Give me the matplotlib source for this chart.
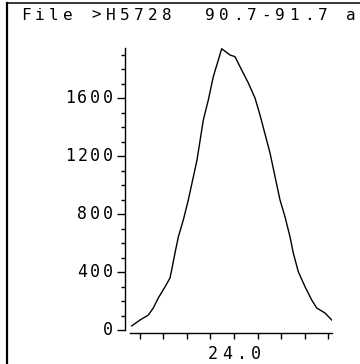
"""Single-ion chromatogram, scanned plotter style."""

import matplotlib
matplotlib.use("Agg")
import matplotlib.pyplot as plt
from matplotlib.lines import Line2D

# retention time (min) and abundance
times = [23.5665, 23.6017, 23.6369, 23.6580, 23.6792, 23.7076, 23.7288,
         23.7360, 23.7500, 23.7640, 23.7852, 23.8064, 23.8432, 23.8699,
         23.8911, 23.9123, 23.9479, 23.9830, 24.0042, 24.0326, 24.0606,
         24.0890, 24.1102, 24.1526, 24.1949, 24.2161, 24.2373, 24.2513,
         24.2725, 24.3009, 24.3293, 24.3505, 24.3856, 24.4140]
abundance = [28, 69, 103, 152, 221, 297, 359,
             414, 531, 641, 759, 897, 1172, 1448,
             1586, 1747, 1940, 1897, 1885, 1793, 1704,
             1600, 1483, 1221, 897, 781, 643, 531,
             402, 299, 207, 152, 117, 69]

title = "File >H5728  90.7-91.7 amu"
y_major = [0, 400, 800, 1200, 1600]
y_minor = list(range(0, 2000, 100))
x_ticks = [23.6, 23.7, 23.8, 23.9, 24.0, 24.1, 24.2, 24.3, 24.4]
x_labels = {24.0: "24.0"}

W, H = 360, 364
MONO = "DejaVu Sans Mono"


def spaced_text(fig, x_px, y_px, s, pitch, size):
    """Draw s one char at a time, first char centred at x_px (pixels from top-left)."""
    for i, ch in enumerate(s):
        cx = x_px + i * pitch
        if ch == " " or cx + 3 > W:
            continue
        fig.text(cx / W, 1 - y_px / H, ch, ha="center", va="center",
                 family=MONO, fontsize=size, color="black")


def main() -> None:
    fig = plt.figure(figsize=(W / 100, H / 100), dpi=100)
    ax = fig.add_axes([130 / W, 34 / H, 202 / W, 282 / H])

    ax.plot(times, abundance, color="black", lw=1.0)
    ax.set_xlim(23.5593, 24.4153)
    ax.set_ylim(0, 1945)

    for side in ("top", "right"):
        ax.spines[side].set_visible(False)
    ax.spines["left"].set_position(("outward", 3.6))
    ax.spines["bottom"].set_position(("outward", 2.2))
    for sp in ("left", "bottom"):
        ax.spines[sp].set_linewidth(1.0)

    ax.set_yticks(y_major)
    ax.set_yticks(y_minor, minor=True)
    ax.set_xticks(x_ticks)
    ax.tick_params(axis="y", which="major", length=5.8, width=1.0,
                   direction="out", labelleft=False)
    ax.tick_params(axis="y", which="minor", length=2.9, width=1.0,
                   direction="out")
    ax.tick_params(axis="x", which="major", length=4.0, width=1.0,
                   direction="out", labelbottom=False)

    # y tick labels, right-aligned against the ticks
    for v in y_major:
        _, yd = ax.transData.transform((0, v))
        s = str(v)
        spaced_text(fig, 107.5 - (len(s) - 1) * 12.6, H - yd, s, 12.6, 12)

    # x tick label
    for t, s in x_labels.items():
        xd, _ = ax.transData.transform((t, 0))
        spaced_text(fig, xd + 0.5 - (len(s) - 1) / 2 * 14.5, 354, s, 14.5, 12)

    # title along the top frame
    spaced_text(fig, 25.5, 15, title, 14.15, 11.5)

    # frame: top and left edges
    fig.add_artist(Line2D([7 / W, 1.0], [1 - 3 / H, 1 - 3 / H],
                          transform=fig.transFigure, color="black", lw=1.1))
    fig.add_artist(Line2D([7 / W, 7 / W], [0.0, 1 - 3 / H],
                          transform=fig.transFigure, color="black", lw=1.6))

    fig.savefig("out.png", dpi=100)


if __name__ == "__main__":
    main()
